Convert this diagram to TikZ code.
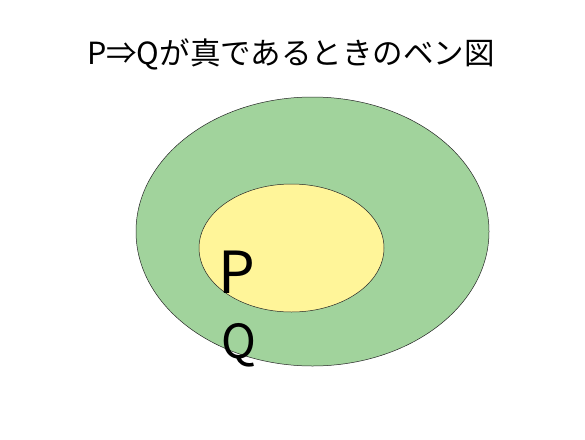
\documentclass[tikz,border=0pt]{standalone}
\usepackage{fontspec}
\setmainfont{Noto Sans CJK JP}
\definecolor{outergreen}{RGB}{161,211,156}
\definecolor{inneryellow}{RGB}{255,245,153}
\begin{document}
\begin{tikzpicture}[x=1pt,y=-1pt,
  setline/.style={draw=black!85,line width=0.5pt}]
\useasboundingbox (0,0) rectangle (585,439);
\fill[white] (0,0) rectangle (585,439);
\node[anchor=base,inner sep=0pt,font=\fontsize{30.5}{33}\selectfont] (title) at (291,64) {P⇒Qが真であるときのベン図};
\draw[setline,fill=outergreen] (312.5,231.5) ellipse [x radius=176.5pt, y radius=134.5pt];
\draw[setline,fill=inneryellow] (291.5,248) ellipse [x radius=92.5pt, y radius=64pt];
\node[anchor=base west,inner sep=0pt,font=\fontsize{58}{60}\selectfont] (P) at (218,293) {P};
\node[anchor=base west,inner sep=0pt,font=\fontsize{47}{50}\selectfont] (Q) at (221,358) {Q};
\end{tikzpicture}
\end{document}
